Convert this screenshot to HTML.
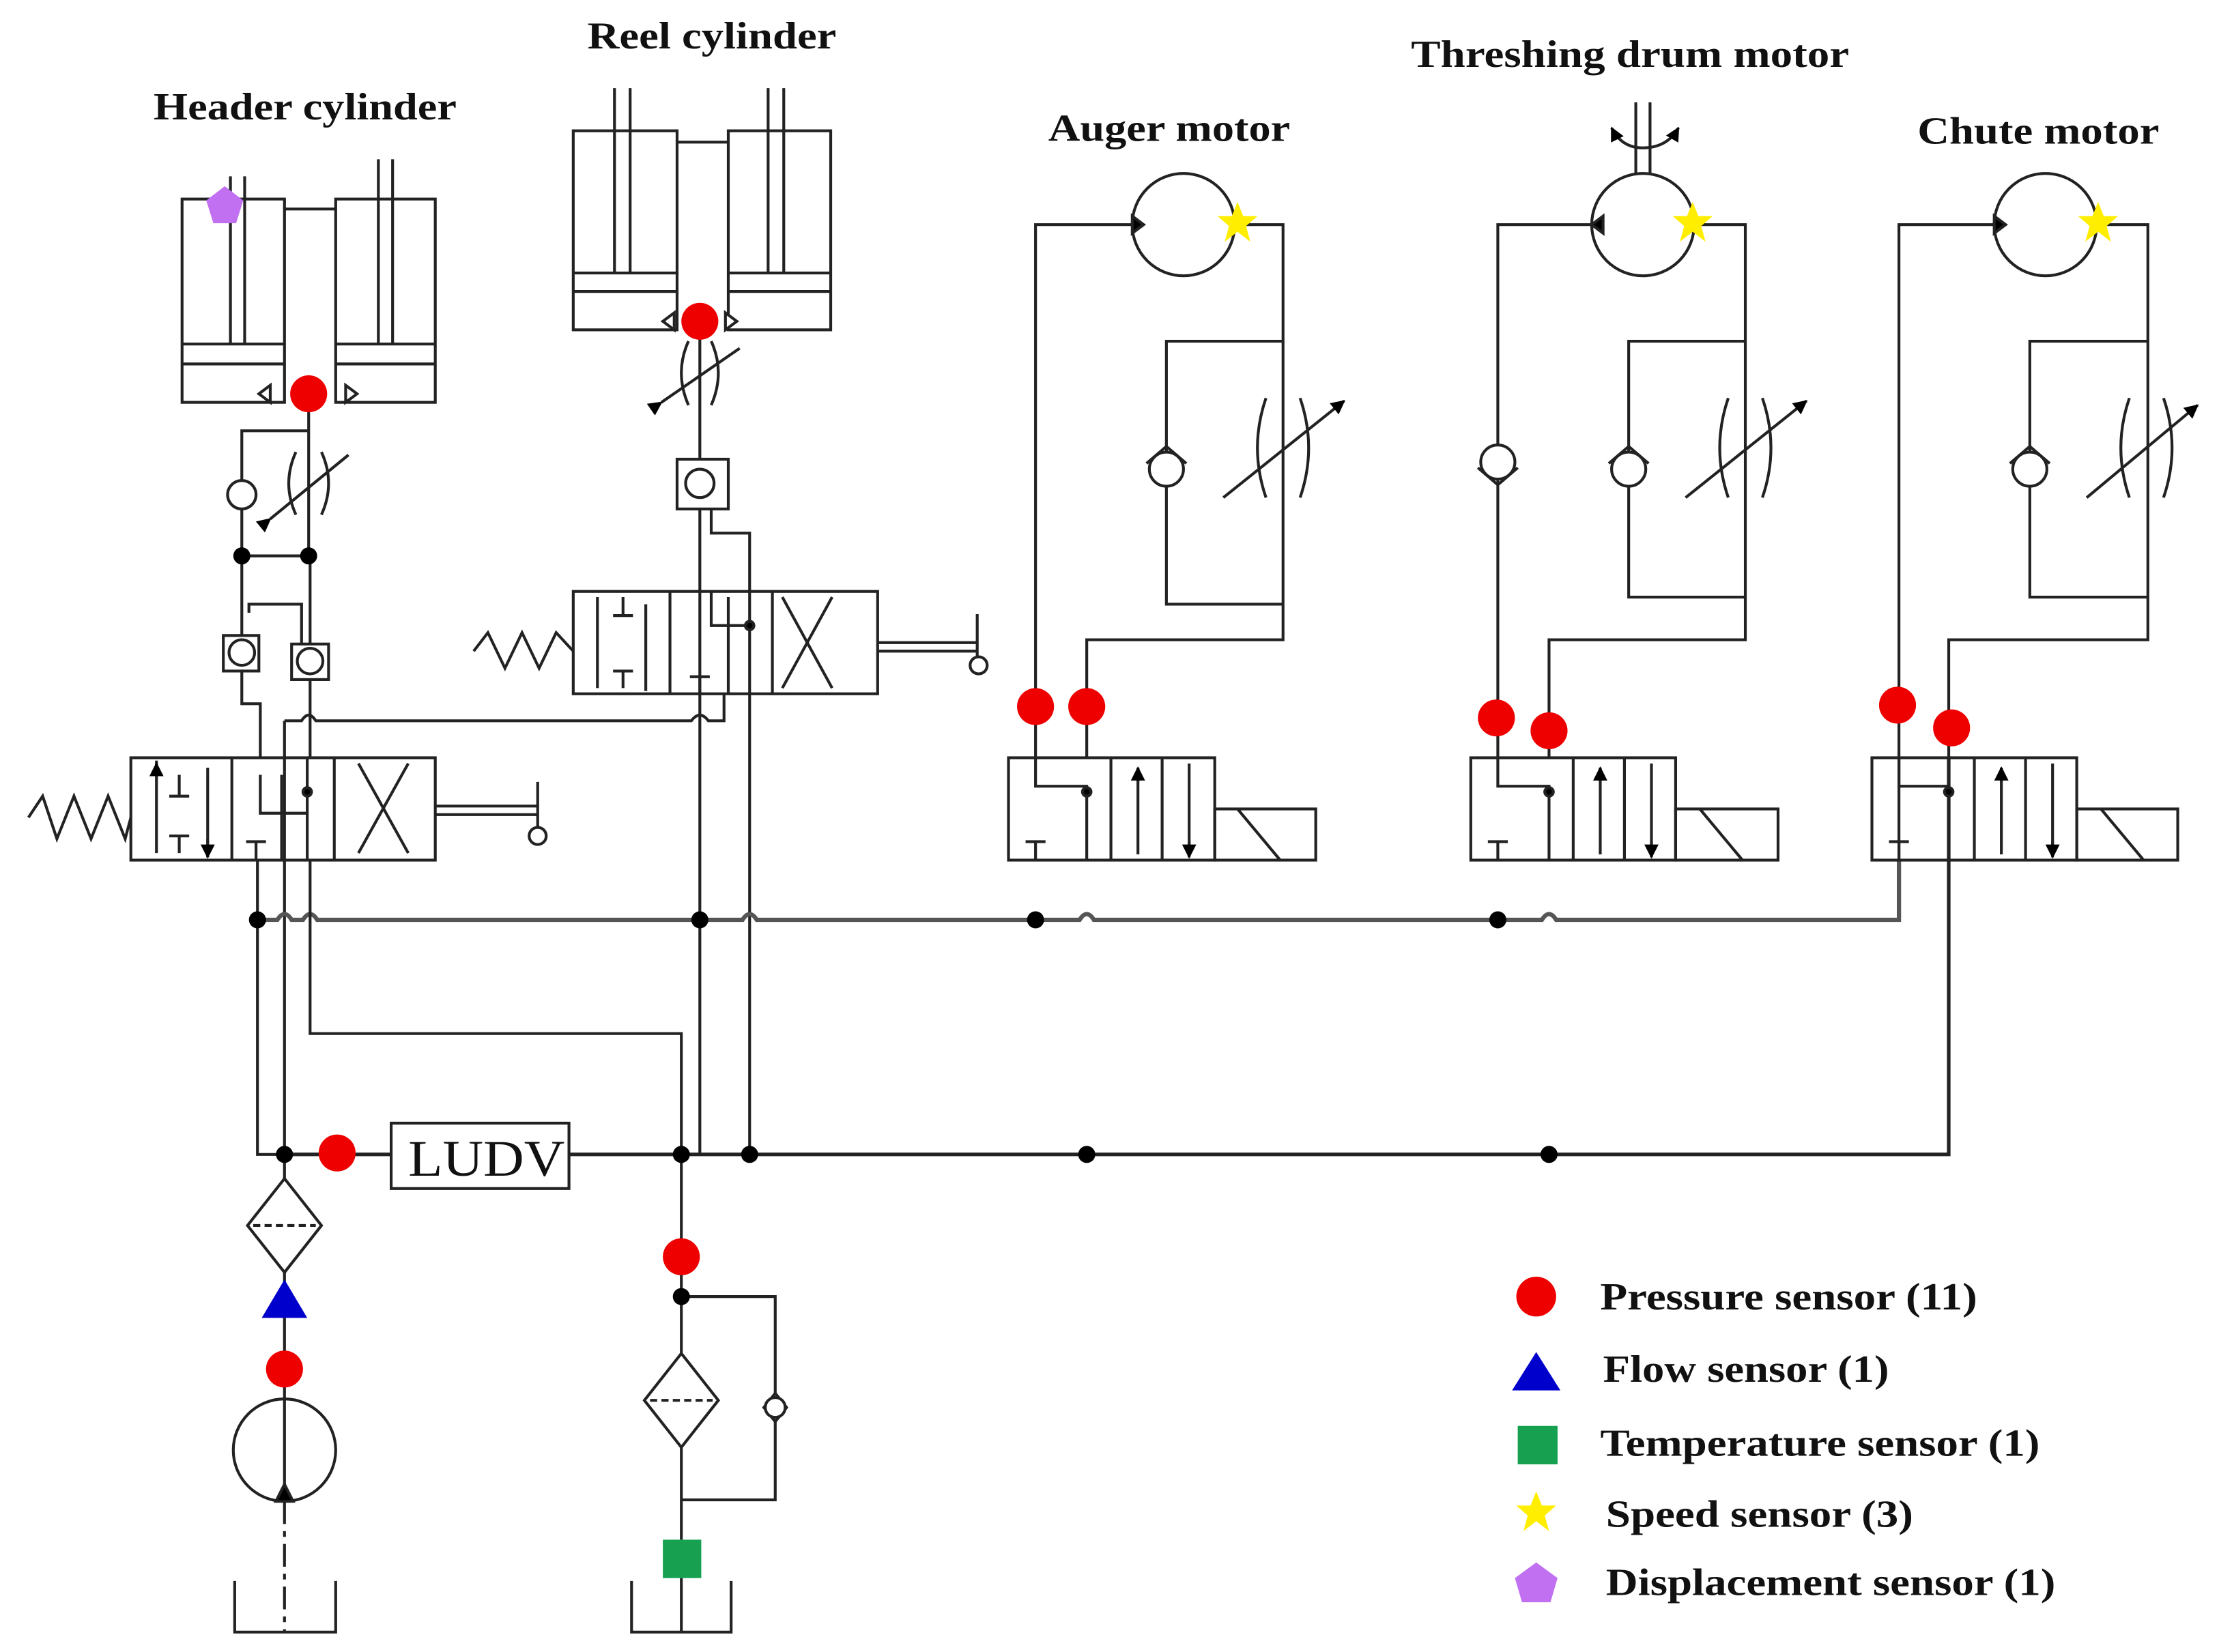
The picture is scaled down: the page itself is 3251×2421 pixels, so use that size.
<!DOCTYPE html>
<html><head><meta charset="utf-8"><style>html,body{margin:0;padding:0;background:#fff}svg{display:block}</style></head>
<body>
<svg width="3251" height="2421" viewBox="0 0 1560 1162" preserveAspectRatio="none" xmlns="http://www.w3.org/2000/svg">
<defs>
<marker id="ah" viewBox="0 0 10 10" refX="9" refY="5" markerWidth="5" markerHeight="5" orient="auto"><path d="M0,0L10,5L0,10z" fill="#000"/></marker>
<g id="star"><polygon points="0,-15 4,-5 14,-5 6,2 9,13 0,6 -9,13 -6,2 -14,-5 -4,-5" fill="#ffee00"/></g>
</defs>
<g fill="none" stroke="#222" stroke-width="2">
<rect x="128" y="140" width="72" height="143"/><rect x="236" y="140" width="70" height="143"/>
<path d="M200 147H236M162 124V242M172 124V242M266 112V242M276 112V242M128 242H200M128 256H200M236 242H306M236 256H306"/>
<path d="M190 271L182 277L190 283ZM243 271L251 277L243 283Z" fill="#fff"/>
<path d="M217 277V391M217 303H170V391M170 391H217M170 391V447M218 391V453M175 431V425H212V453"/>
<circle cx="170" cy="348" r="10" fill="#fff"/>
<path d="M208 318Q198 340 208 362M226 318Q236 340 226 362"/><path d="M190 365L245 320" marker-start="url(#ah)"/>
<rect x="157" y="447" width="25" height="25"/><circle cx="170" cy="459" r="9"/>
<rect x="205" y="453" width="26" height="25"/><circle cx="218" cy="465" r="9"/>
<path d="M170 472V495H183V533M218 478V533"/>
<rect x="92" y="533" width="214" height="72"/>
<path d="M163 533V605M235 533V605M110 535V600M146 540V603M126 545V560M119 560H133M126 600V588M119 588H133M180 605V592M173 592H187M183 545V572H216M198 545V605M216 533V605M252 537L287 600M287 537L252 600"/>
<path d="M110 545L110 537" marker-end="url(#ah)"/><path d="M146 590L146 603" marker-end="url(#ah)"/>
<circle cx="216" cy="557" r="3" fill="#000"/>
<path d="M20 575L30 560L40 590L52 560L64 590L76 560L88 590L92 575"/>
<path d="M306 567H378M306 573H378M378 550V582"/><circle cx="378" cy="588" r="6" fill="#fff"/>
<rect x="403" y="92" width="73" height="140"/><rect x="512" y="92" width="72" height="140"/>
<path d="M476 100H512M432 62V192M443 62V192M540 62V192M551 62V192M403 192H476M403 205H476M512 192H584M512 205H584"/>
<path d="M474 220L466 226L474 232ZM510 220L518 226L510 232Z" fill="#fff"/>
<path d="M492 226V323M484 240Q474 262 484 285M500 240Q510 262 500 285"/><path d="M465 283L520 245" marker-start="url(#ah)"/>
<rect x="476" y="323" width="36" height="35"/><circle cx="492" cy="340" r="10"/>
<path d="M492 358V812M500 358V375H527V812"/>
<rect x="403" y="416" width="214" height="72"/>
<path d="M471 416V488M543 416V488M420 420V484M454 425V486M438 420V433M431 433H445M438 484V472M431 472H445M492 488V476M485 476H499M500 416V440H527M512 420V488M550 420L585 484M585 420L550 484"/>
<circle cx="527" cy="440" r="3" fill="#000"/>
<path d="M333 458L343 445L355 470L367 445L379 470L391 445L403 458"/>
<path d="M617 452H687M617 458H687M687 432V462"/><circle cx="688" cy="468" r="6" fill="#fff"/>
<path d="M200 507H212Q217 499 222 507H486Q492 499 498 507H509V488"/>
<path d="M200 1050V507"/>
<path d="M181 647H195Q200 639 205 647H213Q218 639 223 647H522Q527 639 532 647H759Q764 639 769 647H1084Q1089 639 1094 647H1335V605" stroke="#555" stroke-width="3"/>
<path d="M181 605V812H200M218 605V727H479V812"/>
<path d="M200 812H275M400 812H1370V533" stroke-width="2.5"/>
<rect x="275" y="790" width="125" height="46" fill="#fff"/>
<path d="M200 829L226 862L200 895L174 862Z" fill="#fff"/><path d="M178 862H222" stroke-dasharray="5,3"/>
<circle cx="200" cy="1020" r="36"/><path d="M200 1056V1148" stroke-dasharray="16,5,4,5"/>
<path d="M165 1112V1148H236V1112"/>
<path d="M194 1056L200 1044L206 1056Z" fill="#000"/>
<path d="M479 812V1083M479 912H545V1055H479"/>
<path d="M479 952L505 985L479 1018L453 985Z" fill="#fff"/><path d="M457 985H501" stroke-dasharray="5,3"/>
<path d="M545 980L553 990L545 1000L537 990Z" fill="#fff"/><circle cx="545" cy="990" r="7" fill="#fff"/>
<path d="M444 1112V1148H514V1112M479 1110V1148" />
<g>
<circle cx="832" cy="158" r="36"/>
<path d="M728 533V158H796M868 158H902V450H764V533M902 240H820V425H902"/>
<path d="M796 152L804 158L796 164Z" fill="#000"/>
<circle cx="820" cy="330" r="12" fill="#fff"/><path d="M806 326L820 314L834 326"/>
<path d="M890 280Q878 315 890 350M914 280Q926 315 914 350"/><path d="M860 350L945 282" marker-end="url(#ah)"/>
<rect x="709" y="533" width="145" height="72"/>
<path d="M781 533V605M817 533V605M728 605V592M721 592H735M728 533V553H764V605M800 601V540M836 537V600"/>
<path d="M800 550L800 540" marker-end="url(#ah)"/><path d="M836 592L836 603" marker-end="url(#ah)"/>
<circle cx="764" cy="557" r="3" fill="#000"/>
<rect x="854" y="569" width="71" height="36"/><path d="M870 569L900 605"/>
</g>
<g>
<circle cx="1155" cy="158" r="36"/>
<path d="M1053 533V158H1119M1191 158H1227V450H1089V533M1227 240H1145V420H1227"/>
<path d="M1127 152L1119 158L1127 164Z" fill="#000"/>
<path d="M1150 72V122M1160 72V122"/>
<path d="M1155 104Q1140 104 1133 90" marker-end="url(#ah)"/><path d="M1155 104Q1172 104 1180 90" marker-end="url(#ah)"/>
<circle cx="1053" cy="325" r="12" fill="#fff"/><path d="M1039 329L1053 341L1067 329"/>
<circle cx="1145" cy="330" r="12" fill="#fff"/><path d="M1131 326L1145 314L1159 326"/>
<path d="M1215 280Q1203 315 1215 350M1239 280Q1251 315 1239 350"/><path d="M1185 350L1270 282" marker-end="url(#ah)"/>
<rect x="1034" y="533" width="144" height="72"/>
<path d="M1106 533V605M1142 533V605M1053 605V592M1046 592H1060M1053 533V553H1089V605M1125 601V540M1161 537V600"/>
<path d="M1125 550L1125 540" marker-end="url(#ah)"/><path d="M1161 592L1161 603" marker-end="url(#ah)"/>
<circle cx="1089" cy="557" r="3" fill="#000"/>
<rect x="1178" y="569" width="72" height="36"/><path d="M1195 569L1225 605"/>
</g>
<g>
<circle cx="1438" cy="158" r="36"/>
<path d="M1335 605V158H1402M1474 158H1510V450H1370V533M1510 240H1427V420H1510"/>
<path d="M1402 152L1410 158L1402 164Z" fill="#000"/>
<circle cx="1427" cy="330" r="12" fill="#fff"/><path d="M1413 326L1427 314L1441 326"/>
<path d="M1497 280Q1485 315 1497 350M1521 280Q1533 315 1521 350"/><path d="M1467 350L1545 285" marker-end="url(#ah)"/>
<rect x="1316" y="533" width="144" height="72"/>
<path d="M1388 533V605M1424 533V605M1335 605V592M1328 592H1342M1335 533V553H1370V605M1407 601V540M1443 537V600"/>
<path d="M1407 550L1407 540" marker-end="url(#ah)"/><path d="M1443 592L1443 603" marker-end="url(#ah)"/>
<circle cx="1370" cy="557" r="3" fill="#000"/>
<rect x="1460" y="569" width="71" height="36"/><path d="M1477 569L1507 605"/>
</g>
</g>
<g fill="#000">
<circle cx="170" cy="391" r="6"/><circle cx="217" cy="391" r="6"/>
<circle cx="181" cy="647" r="6"/><circle cx="492" cy="647" r="6"/><circle cx="728" cy="647" r="6"/><circle cx="1053" cy="647" r="6"/>
<circle cx="200" cy="812" r="6"/><circle cx="479" cy="812" r="6"/><circle cx="527" cy="812" r="6"/><circle cx="764" cy="812" r="6"/><circle cx="1089" cy="812" r="6"/>
<circle cx="479" cy="912" r="6"/>
</g>
<g fill="#ee0000">
<circle cx="217" cy="277" r="13"/><circle cx="492" cy="226" r="13"/>
<circle cx="728" cy="497" r="13"/><circle cx="764" cy="497" r="13"/>
<circle cx="1052" cy="505" r="13"/><circle cx="1089" cy="514" r="13"/>
<circle cx="1334" cy="496" r="13"/><circle cx="1372" cy="512" r="13"/>
<circle cx="237" cy="811" r="13"/><circle cx="479" cy="884" r="13"/><circle cx="200" cy="963" r="13"/>
<ellipse cx="1080" cy="912" rx="14" ry="14"/>
</g>
<polygon points="158,131 171,141 166,157 150,157 145,141" fill="#c070f0"/>
<polygon points="200,900 216,927 184,927" fill="#0000cc"/>
<rect x="466" y="1083" width="27" height="27" fill="#16a050"/>
<use href="#star" x="870" y="157"/><use href="#star" x="1190" y="157"/><use href="#star" x="1475" y="157"/>
<polygon points="1080,951 1097,978 1063,978" fill="#0000cc"/>
<rect x="1067" y="1003" width="28" height="27" fill="#16a050"/>
<use href="#star" x="1080" y="1064"/>
<polygon points="1080,1099 1095,1110 1090,1127 1070,1127 1065,1110" fill="#c070f0"/>
<g font-family="Liberation Serif, serif" font-weight="bold" font-size="27" fill="#111" lengthAdjust="spacingAndGlyphs">
<text x="108" y="84" textLength="213" lengthAdjust="spacingAndGlyphs">Header cylinder</text>
<text x="413" y="34" textLength="175" lengthAdjust="spacingAndGlyphs">Reel cylinder</text>
<text x="737" y="99" textLength="170" lengthAdjust="spacingAndGlyphs">Auger motor</text>
<text x="992" y="47" textLength="308" lengthAdjust="spacingAndGlyphs">Threshing drum motor</text>
<text x="1348" y="101" textLength="170" lengthAdjust="spacingAndGlyphs">Chute motor</text>
<text x="1125" y="921" textLength="265" lengthAdjust="spacingAndGlyphs">Pressure sensor (11)</text>
<text x="1127" y="972" textLength="201" lengthAdjust="spacingAndGlyphs">Flow sensor (1)</text>
<text x="1125" y="1024" textLength="309" lengthAdjust="spacingAndGlyphs">Temperature sensor (1)</text>
<text x="1129" y="1074" textLength="216" lengthAdjust="spacingAndGlyphs">Speed sensor (3)</text>
<text x="1129" y="1122" textLength="316" lengthAdjust="spacingAndGlyphs">Displacement sensor (1)</text>
</g>
<text x="287" y="827" textLength="110" lengthAdjust="spacingAndGlyphs" font-family="Liberation Serif, serif" font-size="36" fill="#111">LUDV</text>
</svg>
</body></html>
